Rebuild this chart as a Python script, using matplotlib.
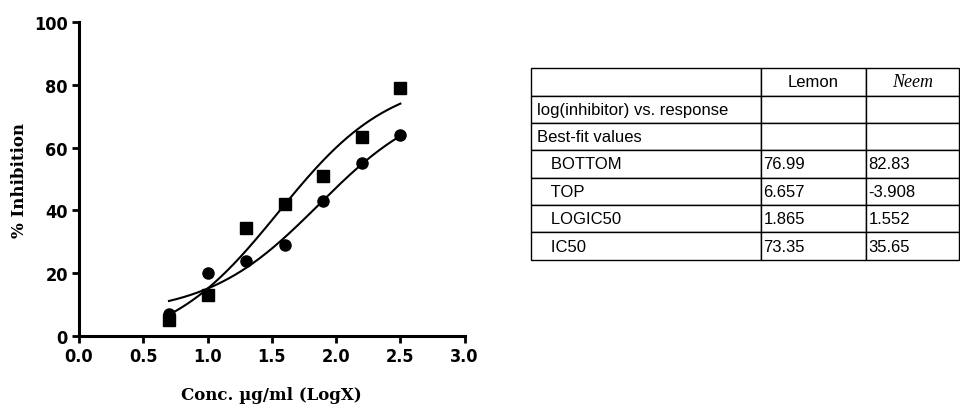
import numpy as np
from matplotlib import pyplot as plt

conc_log = [0.7, 1.0, 1.3, 1.6, 1.9, 2.2, 2.5]
neem_inhib = [5.0, 13.0, 34.5, 42.0, 51.0, 63.5, 79.0]    # squares
lemon_inhib = [7.0, 20.0, 24.0, 29.0, 43.0, 55.0, 64.0]   # circles

# best-fit table (as printed in the figure)
row_labels = ["log(inhibitor) vs. response", "Best-fit values",
              "   BOTTOM", "   TOP", "   LOGIC50", "   IC50"]
lemon_fit = ["", "", "76.99", "6.657", "1.865", "73.35"]
neem_fit = ["", "", "82.83", "-3.908", "1.552", "35.65"]

x_ticks = [0.0, 0.5, 1.0, 1.5, 2.0, 2.5, 3.0]
y_ticks = [0, 20, 40, 60, 80, 100]


def fit_curve(x, bottom, top, logic50):
    # log(inhibitor) vs response, parameters taken from the table
    return top + (bottom - top) / (1 + 10 ** (logic50 - x))


fig = plt.figure(figsize=(9.6, 4.14), dpi=100)
ax = fig.add_axes([0.0823, 0.186, 0.4017, 0.758])

xs = np.linspace(conc_log[0], conc_log[-1], 200)
ax.plot(xs, fit_curve(xs, *[float(v) for v in lemon_fit[2:5]]), color="black", lw=1.5)
ax.plot(xs, fit_curve(xs, *[float(v) for v in neem_fit[2:5]]), color="black", lw=1.5)
ax.plot(conc_log, neem_inhib, "s", color="black", ms=8.5, clip_on=False)
ax.plot(conc_log, lemon_inhib, "o", color="black", ms=8, clip_on=False)

ax.set_xlim(0, 3)
ax.set_ylim(0, 100)
ax.set_xticks(x_ticks)
ax.set_yticks(y_ticks)
ax.set_xticklabels([f"{t:.1f}" for t in x_ticks])
for side in ["top", "right"]:
    ax.spines[side].set_visible(False)
for side in ["left", "bottom"]:
    ax.spines[side].set_linewidth(2.2)
ax.tick_params(direction="out", length=5, width=2, pad=3)
for lab in ax.get_xticklabels() + ax.get_yticklabels():
    lab.set_fontfamily("DejaVu Sans")
    lab.set_fontweight("bold")
    lab.set_fontstretch("condensed")
    lab.set_fontsize(13)

ax.set_ylabel("% Inhibition", fontfamily="DejaVu Serif", fontweight="bold", fontsize=12)
ax.set_xlabel("Conc. µg/ml (LogX)", fontfamily="DejaVu Serif", fontweight="bold", fontsize=12)
ax.yaxis.set_label_coords(-0.155, 0.5)
ax.xaxis.set_label_coords(0.5, -0.185)
ax.xaxis.label.set_va("center")
ax.yaxis.label.set_va("center")

# parameter table on the right
tax = fig.add_axes([0.553, 0.370, 0.446, 0.463])
tax.set_axis_off()
cells = [["", "Lemon", "Neem"]] + [[r, a, b] for r, a, b in zip(row_labels, lemon_fit, neem_fit)]
tbl = tax.table(cellText=cells, bbox=[0, 0, 1, 1], colWidths=[230, 105, 93], cellLoc="left")
tbl.auto_set_font_size(False)
for (r, c), cell in tbl.get_celld().items():
    cell.set_linewidth(1.0)
    cell.set_edgecolor("black")
    cell.PAD = 0.025
    txt = cell.get_text()
    txt.set_fontfamily("Liberation Sans")
    txt.set_fontsize(12)
    if r == 0:
        txt.set_ha("center")
        cell._loc = "center"
        if c == 2:
            txt.set_fontfamily("Liberation Serif")
            txt.set_fontstyle("italic")
            txt.set_fontsize(13)

plt.savefig("out.png", dpi=100)
